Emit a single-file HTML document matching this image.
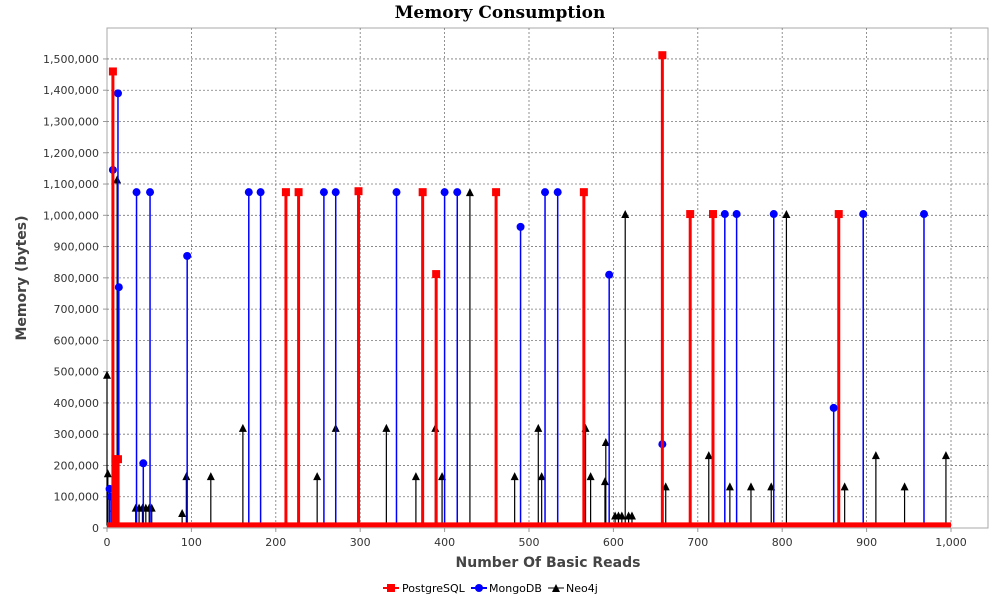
<!DOCTYPE html>
<html><head><meta charset="utf-8"><style>
body{margin:0;background:#fff;font-family:"DejaVu Sans",sans-serif}
svg text{font-family:"DejaVu Sans",sans-serif}
</style></head><body>
<svg id="c" width="1000" height="600" xmlns="http://www.w3.org/2000/svg">
<text x="500" y="18" text-anchor="middle" style="font-family:'DejaVu Serif',serif;font-weight:bold;font-size:17px">Memory Consumption</text>
<rect x="107" y="28" width="881" height="500" fill="#fff" stroke="#aaa"/>
<g id="grid"></g><g id="axes"></g><g id="series"></g>
<text x="548" y="567" text-anchor="middle" font-size="14" font-weight="bold" fill="#444">Number Of Basic Reads</text>
<text transform="translate(26,278) rotate(-90)" text-anchor="middle" font-size="14" font-weight="bold" fill="#444">Memory (bytes)</text>
<g font-size="11">
<g><line x1="383" y1="588" x2="399" y2="588" stroke="red" stroke-width="2"/><rect x="387" y="584" width="8" height="8" fill="red"/><text x="402" y="592">PostgreSQL</text></g>
<g><line x1="471" y1="588" x2="487" y2="588" stroke="blue" stroke-width="2"/><circle cx="479" cy="588" r="4" fill="blue"/><text x="489" y="592">MongoDB</text></g>
<g><line x1="548" y1="588" x2="564" y2="588" stroke="#000" stroke-width="1"/><path d="M552 592 L556 584 L560 592Z" fill="#000"/><text x="566" y="592">Neo4j</text></g>
</g>
</svg>
<script>
const xTicks=[0,100,200,300,400,500,600,700,800,900,1000];
const xTickLabels=["0","100","200","300","400","500","600","700","800","900","1,000"];
const yTicks=[0,100000,200000,300000,400000,500000,600000,700000,800000,900000,1000000,1100000,1200000,1300000,1400000,1500000];
const yTickLabels=["0","100,000","200,000","300,000","400,000","500,000","600,000","700,000","800,000","900,000","1,000,000","1,100,000","1,200,000","1,300,000","1,400,000","1,500,000"];
const baseValue=10000;
const pgX=[7,10,13,212,227,298,374,390,461,565,658,691,718,867];
const pgY=[1460000,220000,220000,1074000,1074000,1077000,1074000,812000,1074000,1074000,1512000,1004000,1004000,1004000];
const mgX=[3,5,7,13,14,35,43,51,95,168,182,257,271,343,400,415,490,519,534,595,658,732,746,790,861,896,968];
const mgY=[125000,100000,1145000,1390000,770000,1074000,207000,1074000,870000,1074000,1074000,1074000,1074000,1074000,1074000,1074000,963000,1074000,1074000,810000,268000,1004000,1004000,1004000,384000,1004000,1004000];
const neX=[0,1,8,12,34,38,42,46,50,53,89,94,123,161,249,271,331,366,389,397,430,483,511,515,567,573,590,591,602,606,610,614,618,622,662,713,738,763,787,805,874,911,945,994];
const neY=[490000,175000,65000,1115000,65000,65000,65000,65000,65000,65000,48000,166000,166000,320000,166000,320000,320000,166000,320000,166000,1074000,166000,320000,166000,320000,166000,150000,275000,40000,40000,40000,1004000,40000,40000,133000,233000,133000,133000,133000,1004000,133000,233000,133000,233000];
const NS="http://www.w3.org/2000/svg";
const X=v=>107+v*0.844, Y=v=>528-v*0.0003127;
function mk(t,a,p){const e=document.createElementNS(NS,t);for(const k in a)e.setAttribute(k,a[k]);p.appendChild(e);return e;}
const grid=document.getElementById('grid'),axes=document.getElementById('axes'),ser=document.getElementById('series');
yTicks.forEach((v,i)=>{
 if(v>0){const g=mk('line',{x1:107,x2:988,y1:Y(v),y2:Y(v),stroke:'#777','stroke-dasharray':'2,2','stroke-width':0.8},grid);
 
 }
 const t=mk('text',{x:99,y:Y(v)+4,'text-anchor':'end','font-size':11,fill:'#333'},axes);t.textContent=yTickLabels[i];
 
 
 mk('line',{x1:103,x2:107,y1:Y(v),y2:Y(v),stroke:'#999'},axes);
});
xTicks.forEach((v,i)=>{
 if(v>0){const g=mk('line',{x1:X(v),x2:X(v),y1:28,y2:528,stroke:'#777','stroke-dasharray':'2,2','stroke-width':0.8},grid);
 
 }
 const t=mk('text',{x:X(v),y:546,'text-anchor':'middle','font-size':11,fill:'#333'},axes);t.textContent=xTickLabels[i];
 
 
 mk('line',{x1:X(v),x2:X(v),y1:528,y2:532,stroke:'#999'},axes);
});
function draw(xs,ys,color,w,marker,name){
 const g=mk('g',{},ser);
 
 
 let d='M'+X(0)+' '+Y(baseValue);
 xs.forEach((x,i)=>{d+=' L'+X(x)+' '+Y(baseValue)+' L'+X(x)+' '+Y(ys[i])+' L'+X(x)+' '+Y(baseValue);});
 d+=' L'+X(1000)+' '+Y(baseValue);
 mk('path',{d:d,fill:'none',stroke:color,'stroke-width':w},g);
 xs.forEach((x,i)=>{
  const cx=X(x),cy=Y(ys[i]);let m;
  if(marker==='sq')m=mk('rect',{x:cx-4,y:cy-4,width:8,height:8,fill:color},g);
  else if(marker==='ci')m=mk('circle',{cx:cx,cy:cy,r:4,fill:color},g);
  else m=mk('path',{d:`M${cx-4} ${cy+4} L${cx} ${cy-4} L${cx+4} ${cy+4}Z`,fill:color},g);
  
  
 });
}
draw(neX,neY,'#000',1.2,'tr','neo4j-series');
draw(mgX,mgY,'blue',1.5,'ci','mongodb-series');
draw(pgX,pgY,'red',3,'sq','postgresql-series');
mk('line',{x1:X(0),x2:X(1000),y1:Y(baseValue),y2:Y(baseValue),stroke:'red','stroke-width':5},ser);
</script>
</body></html>
